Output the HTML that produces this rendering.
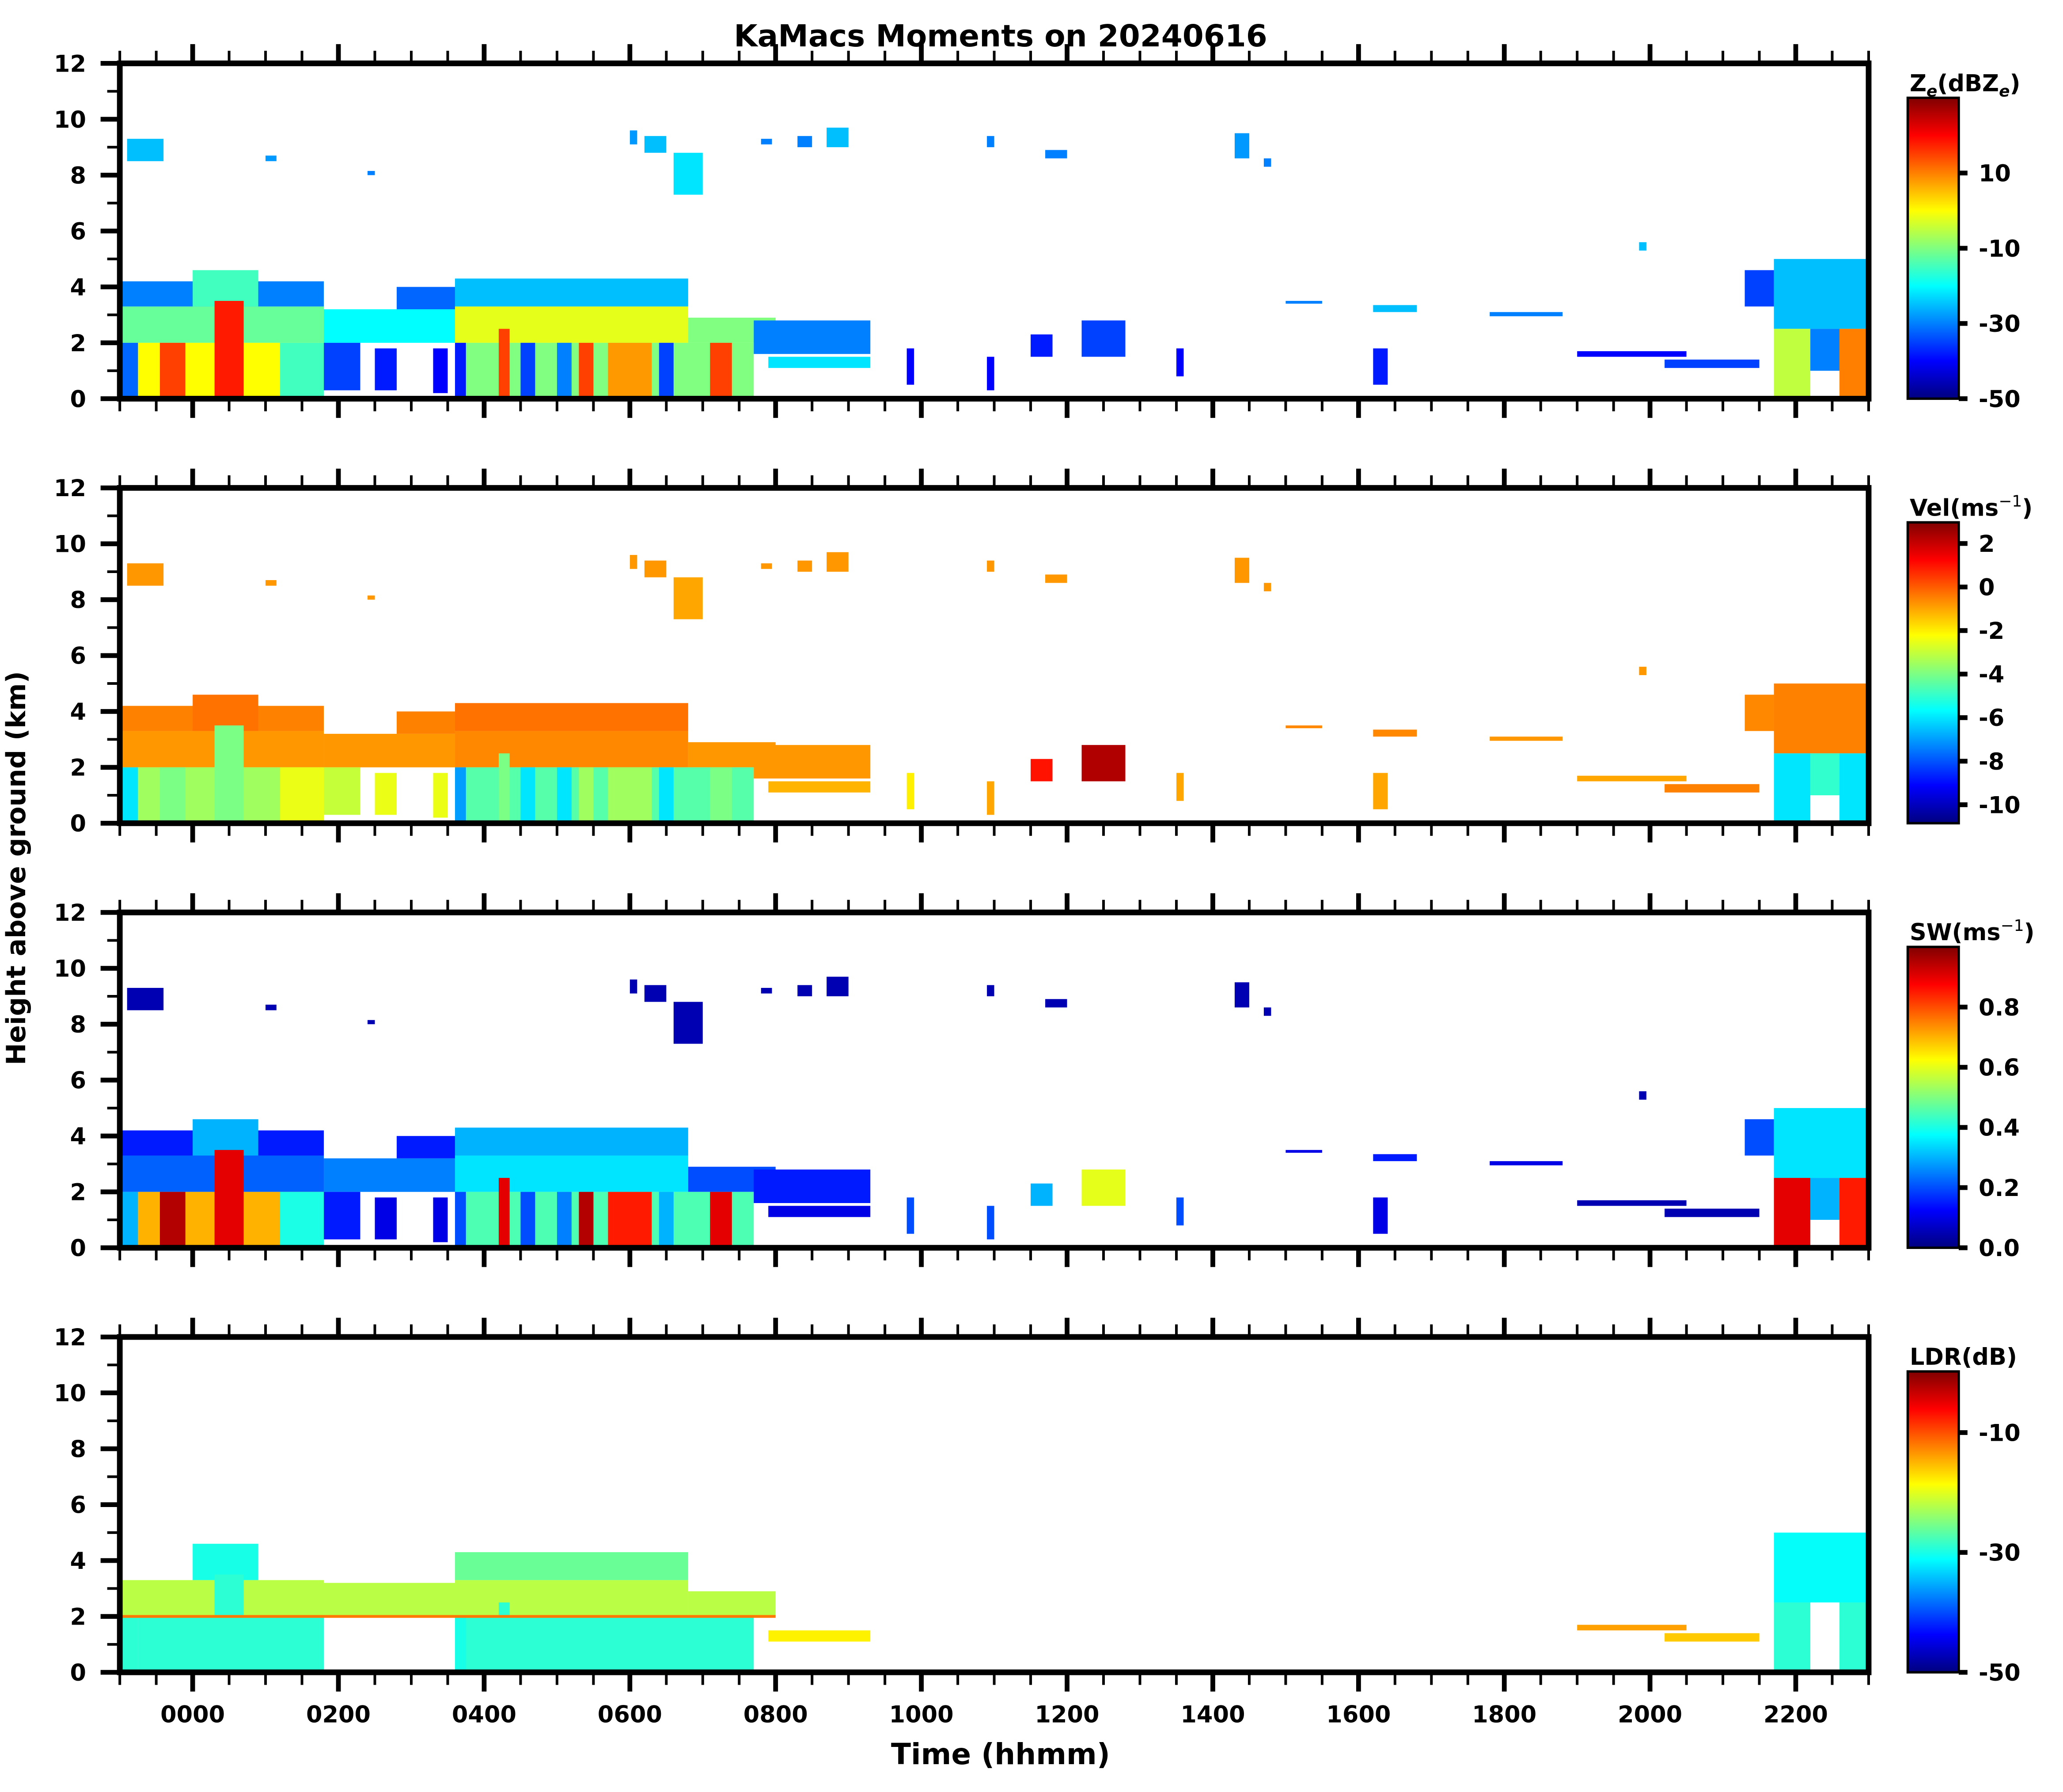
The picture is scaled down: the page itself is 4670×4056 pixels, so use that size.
<!DOCTYPE html>
<html><head><meta charset="utf-8"><title>KaMacs Moments on 20240616</title>
<style>
html,body{margin:0;padding:0;background:#fff;}
svg{display:block;}
text{font-family:"DejaVu Sans","Liberation Sans",sans-serif;font-weight:bold;fill:#000;}
</style></head>
<body>
<svg id="fig" xmlns="http://www.w3.org/2000/svg" width="4670" height="4056" viewBox="0 0 1556.667 1352">
<rect x="0" y="0" width="1556.667" height="1352" fill="#fff"/>
<defs id="defs"></defs>
<text x="755" y="35" font-size="23" text-anchor="middle">KaMacs Moments on 20240616</text>
<text x="0" y="0" font-size="20" text-anchor="middle" transform="translate(19,655) rotate(-90)">Height above ground (km)</text>
<text x="755" y="1331" font-size="22" text-anchor="middle">Time (hhmm)</text>
<g id="plots"></g>
</svg>
<script>
// ---- data (hours relative to 0000, heights in km) ----
const segStart=[-1.0,-1.0,0.0,-1.0,-0.75,-0.45,0.3,1.2,1.8,2.8,1.8,2.5,3.3,3.6,3.6,6.8,3.6,3.6,4.2,4.5,5.0,5.3,5.7,6.4,7.1,7.7,7.9,-0.9,1.0,2.4,6.0,6.2,6.6,7.8,8.3,8.7,10.9,11.7,14.3,14.7,11.5,12.2,15.0,16.2,17.8,19.0,20.2,19.85,21.3,21.7,21.7,22.2,22.6,-1.0,9.8,10.9,13.5,16.2];
const segEnd=[1.8,1.8,0.9,-0.75,1.8,-0.1,0.7,1.8,3.6,3.6,2.3,2.8,3.5,6.8,6.8,8.0,7.7,3.75,4.35,4.7,5.2,5.5,6.3,6.6,7.4,9.3,9.3,-0.4,1.15,2.5,6.1,6.5,7.0,7.95,8.5,9.0,11.0,12.0,14.5,14.8,11.8,12.8,15.5,16.8,18.8,20.5,21.5,19.95,21.7,23.0,22.2,22.6,23.0,8.0,9.9,11.0,13.6,16.4];
const segBase=[2.0,3.3,3.3,0,0,0,0,0,2.0,3.2,0.3,0.3,0.2,2.0,3.3,2.0,0,0,0,0,0,0,0,0,0,1.6,1.1,8.5,8.5,8.0,9.1,8.8,7.3,9.1,9.0,9.0,9.0,8.6,8.6,8.3,1.5,1.5,3.4,3.1,2.95,1.5,1.1,5.3,3.3,2.5,0,1.0,0,1.95,0.5,0.3,0.8,0.5];
const segTop=[3.3,4.2,4.6,2.0,2.0,2.0,3.5,2.0,3.2,4.0,2.0,1.8,1.8,3.3,4.3,2.9,2.0,2.0,2.5,2.0,2.0,2.0,2.0,2.0,2.0,2.8,1.5,9.3,8.7,8.15,9.6,9.4,8.8,9.3,9.4,9.7,9.4,8.9,9.5,8.6,2.3,2.8,3.5,3.35,3.1,1.7,1.4,5.6,4.6,5.0,2.5,2.5,2.5,2.05,1.8,1.5,1.8,1.8];
const zeVal=[-12,-30,-15,-32,0,15,18,-15,-20,-32,-35,-38,-40,-2,-25,-10,-10,-38,15,-35,-30,15,8,-35,15,-30,-22,-25,-28,-30,-28,-25,-22,-30,-30,-25,-30,-30,-28,-30,-38,-35,-30,-25,-30,-40,-35,-25,-35,-25,-5,-30,10,null,-40,-40,-40,-38];
const velVal=[-0.8,-0.5,-0.3,-6,-3.5,-4,-4,-2.5,-0.8,-0.5,-3,-2.5,-2.5,-0.6,-0.3,-0.8,-4.5,-7,-4,-6,-6,-3.5,-3.5,-6,-4,-0.8,-1.2,-0.8,-0.8,-0.8,-0.8,-0.8,-1.0,-0.8,-0.8,-0.8,-0.8,-0.8,-0.8,-0.8,1.0,2.3,-0.6,-0.6,-0.8,-1.0,-0.5,-0.8,-0.6,-0.5,-6,-5,-6,null,-2,-1,-1,-1];
const swVal=[0.22,0.15,0.3,0.3,0.7,0.95,0.9,0.4,0.25,0.15,0.15,0.1,0.1,0.35,0.3,0.2,0.45,0.2,0.9,0.2,0.25,0.95,0.85,0.3,0.9,0.15,0.1,0.05,0.05,0.05,0.05,0.05,0.05,0.05,0.05,0.05,0.05,0.05,0.05,0.05,0.3,0.6,0.1,0.15,0.1,0.05,0.05,0.05,0.2,0.35,0.9,0.3,0.85,null,0.2,0.2,0.2,0.1];
const ldrVal=[-22,null,-30,-29,-29,-29,-29,-29,-22,null,null,null,null,-22,-26,-22,-29,-30,-29,-29,null,-29,-29,null,-29,null,-18,null,null,null,null,null,null,null,null,null,null,null,null,null,null,null,null,null,null,-14,-16,null,null,-31,-29,null,-29,-12,null,null,null,null];
// ---- colorbar ticks ----
const zeTicks=[10,-10,-30,-50];
const velTicks=[2,0,-2,-4,-6,-8,-10];
const swTicks=[0.0,0.2,0.4,0.6,0.8];
const ldrTicks=[-10,-30,-50];
const timeTicks=[0,2,4,6,8,10,12,14,16,18,20,22];
const timeLabels=["0000","0200","0400","0600","0800","1000","1200","1400","1600","1800","2000","2200"];
const heightTicks=[0,2,4,6,8,10,12];

const NS="http://www.w3.org/2000/svg";
const X0=90.4,X1=1410,T0=-1,T1=23,PH=253;
const tops=[47.8,368.1,688.4,1008.7];
const panels=[
 {key:"ze",vals:zeVal,min:-50,max:30,ticks:zeTicks,fmt:v=>String(v),label:'Z<tspan font-size="12" dy="4" font-style="italic">e</tspan><tspan dy="-4">(dBZ</tspan><tspan font-size="12" dy="4" font-style="italic">e</tspan><tspan dy="-4">)</tspan>'},
 {key:"vel",vals:velVal,min:-10.85,max:2.97,ticks:velTicks,fmt:v=>String(v),label:'Vel(ms<tspan font-size="12" dy="-7" font-weight="normal">−1</tspan><tspan dy="7">)</tspan>'},
 {key:"sw",vals:swVal,min:0,max:1.0,ticks:swTicks,fmt:v=>v.toFixed(1),label:'SW(ms<tspan font-size="12" dy="-7" font-weight="normal">−1</tspan><tspan dy="7">)</tspan>'},
 {key:"ldr",vals:ldrVal,min:-50,max:0.2,ticks:ldrTicks,fmt:v=>String(v),label:'LDR(dB)'}
];
function xs(h){return X0+(h-T0)/(T1-T0)*(X1-X0);}
function ys(top,km){return top+PH-km/12*PH;}
function cl(v){return Math.max(0,Math.min(1,v));}
function jet(t){t=cl(t);const r=cl(1.5-Math.abs(4*t-3)),g=cl(1.5-Math.abs(4*t-2)),b=cl(1.5-Math.abs(4*t-1));
 return "rgb("+Math.round(r*255)+","+Math.round(g*255)+","+Math.round(b*255)+")";}
function mk(tag,attrs,parent){const e=document.createElementNS(NS,tag);for(const k in attrs)e.setAttribute(k,attrs[k]);parent.appendChild(e);return e;}

const root=document.getElementById("plots");
const defs=document.getElementById("defs");
const grad=mk("linearGradient",{id:"jetgrad",x1:"0",y1:"1",x2:"0",y2:"0"},defs);
for(let i=0;i<=40;i++){mk("stop",{offset:(i/40).toString(),"stop-color":jet(i/40)},grad);}

panels.forEach((p,pi)=>{
 const top=tops[pi],bot=top+PH;
 const g=mk("g",{},root);
 
 
 const marks=mk("g",{},g);
 
 
 for(let i=0;i<segStart.length;i++){
  const v=p.vals[i]; if(v===null||v===undefined) continue;
  const x=xs(segStart[i]),w=xs(segEnd[i])-x,y=ys(top,segTop[i]),h=ys(top,segBase[i])-y;
  const r=mk("rect",{x:x,y:y,width:w,height:h,fill:jet((v-p.min)/(p.max-p.min))},marks);
  
  
 }
 const tk=mk("g",{stroke:"#000"},g);
 
 
 for(let h=T0;h<=T1+1e-6;h+=0.5){
  const major=timeTicks.indexOf(Math.round(h*2)/2)>=0 && Math.abs(h-Math.round(h))<1e-6;
  const L=major?14.5:9.5,sw=major?3.6:2;
  mk("line",{x1:xs(h),x2:xs(h),y1:bot,y2:bot+L,"stroke-width":sw},tk);
  mk("line",{x1:xs(h),x2:xs(h),y1:top,y2:top-L,"stroke-width":sw},tk);
 }
 for(let k=0;k<=12;k++){
  const major=heightTicks.indexOf(k)>=0;
  mk("line",{x1:X0,x2:X0-(major?14.5:9.5),y1:ys(top,k),y2:ys(top,k),"stroke-width":major?3.6:2},tk);
 }
 heightTicks.forEach(k=>{
  const t=mk("text",{x:65,y:ys(top,k)+6.3,"font-size":17.5,"text-anchor":"end"},g);
  t.textContent=String(k);
  
  
 });
 if(pi===3){
  timeTicks.forEach((h,j)=>{
   const t=mk("text",{x:xs(h),y:1299.5,"font-size":17.5,"text-anchor":"middle"},g);
   t.textContent=timeLabels[j];
   
   
  });
 }
 const fr=mk("rect",{x:X0,y:top,width:X1-X0,height:PH,fill:"none",stroke:"#000","stroke-width":4.3},g);
 
 
 const cx0=1439.5,cx1=1478,ct=top+26,cb=bot;
 const cbg=mk("g",{},g);
 
 
 mk("rect",{x:cx0,y:ct,width:cx1-cx0,height:cb-ct,fill:"url(#jetgrad)",stroke:"#000","stroke-width":1.8},cbg);
 p.ticks.forEach(v=>{
  const yy=cb-(v-p.min)/(p.max-p.min)*(cb-ct);
  mk("line",{x1:cx1,x2:cx1+6.6,y1:yy,y2:yy,stroke:"#000","stroke-width":3.6},cbg);
  const t=mk("text",{x:1493,y:yy+6.3,"font-size":17.5},cbg);
  t.textContent=p.fmt(v);
  
  
 });
 const lt=mk("text",{x:1441,y:top+21,"font-size":17.5},cbg);
 lt.innerHTML=p.label;
 
 
});
</script>
</body></html>
